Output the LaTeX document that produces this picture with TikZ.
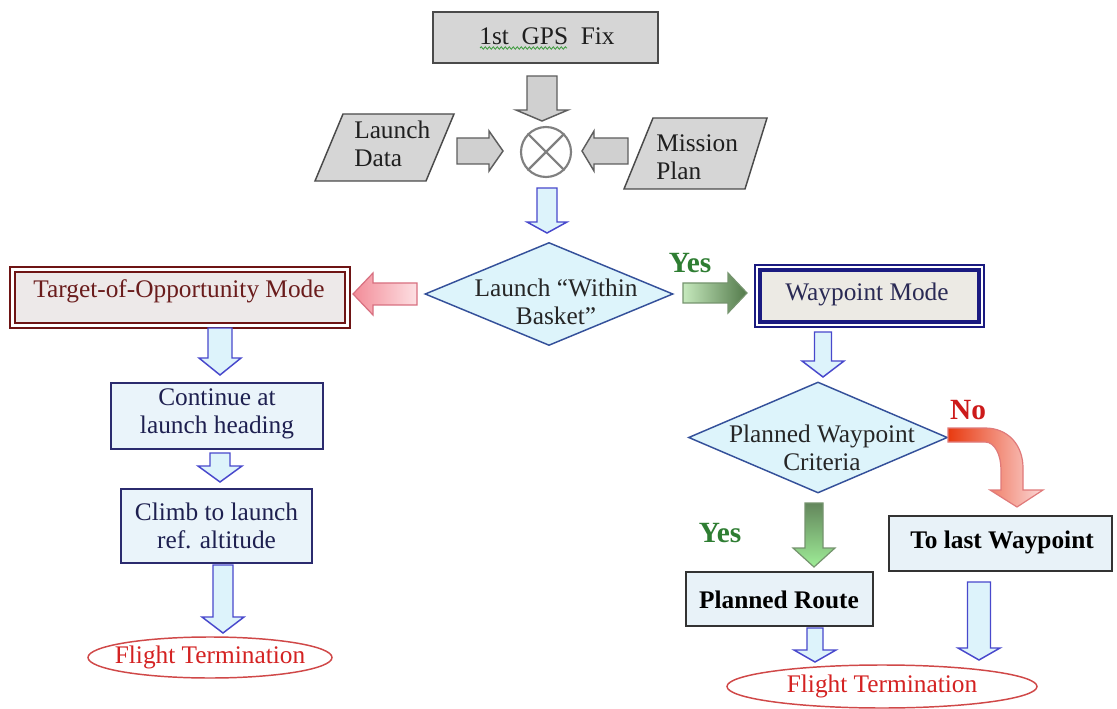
\documentclass[tikz,border=0pt]{standalone}
\usepackage{fontspec}
\setmainfont{Liberation Serif}
\usetikzlibrary{shapes.geometric,decorations.pathmorphing}
\definecolor{grayfill}{HTML}{D6D6D6}
\definecolor{grayline}{HTML}{4A4A4A}
\definecolor{arrgray}{HTML}{D0D0D0}
\definecolor{arrgrayline}{HTML}{5E5E5E}
\definecolor{bluefill}{HTML}{DDF3FB}
\definecolor{blueline}{HTML}{4848CC}
\definecolor{diafill}{HTML}{DDF4FB}
\definecolor{dialine}{HTML}{34509A}
\definecolor{boxfill}{HTML}{EAF4FA}
\definecolor{boxline}{HTML}{2B2B6E}
\definecolor{boxtext}{HTML}{1E2050}
\definecolor{tgtline}{HTML}{6E1414}
\definecolor{tgtfill}{HTML}{EDE9E9}
\definecolor{tgttext}{HTML}{6A1C1C}
\definecolor{wpline}{HTML}{1A1A80}
\definecolor{wpfill}{HTML}{ECEAE4}
\definecolor{wptext}{HTML}{2A2A55}
\definecolor{ftred}{HTML}{D42222}
\definecolor{ftline}{HTML}{D04848}
\definecolor{yesgreen}{HTML}{2E7D32}
\definecolor{nored}{HTML}{CC1A1A}
\definecolor{lgreen}{HTML}{C6E9BD}
\definecolor{dgreen}{HTML}{52794A}
\definecolor{pinkA}{HTML}{F28C98}
\definecolor{pinkB}{HTML}{FDE0E3}
\definecolor{pinkline}{HTML}{D87080}
\definecolor{redA}{HTML}{E83A10}
\definecolor{redB}{HTML}{FBD8D8}
\definecolor{redline}{HTML}{E07A7A}
\definecolor{routefill}{HTML}{E8F2F8}
\definecolor{squig}{HTML}{3A9A3A}
% vertical block arrow: [style]{x}{y0}{yb}{shaft half}{head half}{tip y}
\newcommand\vblk[7][]{\path[#1] ({#2-#5},#3) -- ({#2+#5},#3) -- ({#2+#5},#4) -- ({#2+#6},#4) -- (#2,#7) -- ({#2-#6},#4) -- ({#2-#5},#4) -- cycle;}
% horizontal block arrow: [style]{y}{x0}{xb}{shaft half}{head half}{tip x}
\newcommand\hblk[7][]{\path[#1] (#3,{#2-#5}) -- (#4,{#2-#5}) -- (#4,{#2-#6}) -- (#7,#2) -- (#4,{#2+#6}) -- (#4,{#2+#5}) -- (#3,{#2+#5}) -- cycle;}
\begin{document}
\begin{tikzpicture}[x=0.75pt,y=-0.75pt,
  every node/.style={inner sep=0pt, font=\fontsize{19}{21}\selectfont},
  graybk/.style={draw=arrgrayline, fill=arrgray, line width=1.1pt},
  bluebk/.style={draw=blueline, fill=bluefill, line width=1.1pt},
  pinkbk/.style={draw=pinkline, left color=pinkA, right color=pinkB, line width=0.9pt},
  greenr/.style={draw=dgreen!80, left color=lgreen, right color=dgreen, line width=0.9pt},
  greend/.style={draw=dgreen!80, top color=dgreen!90, bottom color=lgreen!80!green, line width=0.9pt},
  redbk/.style={draw=redline, left color=redA, right color=redB, line width=0.9pt},
  graybox/.style={draw=grayline, fill=grayfill, line width=1.1pt},
  flowbox/.style={draw=boxline, fill=boxfill, line width=1.1pt},
  dia/.style={diamond, draw=dialine, fill=diafill, line width=1.1pt},
  term/.style={ellipse, draw=ftline, fill=white, line width=1.1pt},
  txt/.style={align=center},
  lbl/.style={font=\fontsize{22}{24}\selectfont\bfseries}
]
\useasboundingbox[fill=white] (0,0) rectangle (1117,709);

% top: 1st GPS fix
\node[graybox, minimum width=168.75pt, minimum height=38.25pt] (gps) at (545.5,37.5) {};
\node[text=black!88] (gpst) at (547,36) {1st~ GPS~ Fix};
\draw[squig, line width=0.6pt, decorate, decoration={snake, amplitude=0.9pt, segment length=3pt}] (480,48) -- (567,48);

% parallelograms
\draw[graybox] (343,114) -- (454,114) -- (426,181) -- (315,181) -- cycle;
\node[txt, align=left, anchor=west, text=black!88] (ld) at (354,144) {Launch\\Data};
\draw[graybox] (653,118) -- (767,118) -- (745,189) -- (624,189) -- cycle;
\node[txt, align=left, anchor=west, text=black!88] (mp) at (656,157) {Mission\\Plan};

% summing junction
\node[circle, draw=black!50, line width=1.6pt, minimum size=37.5pt] (sum) at (546,152) {};
\draw[black!50, line width=1.6pt] (sum.north west) -- (sum.south east) (sum.north east) -- (sum.south west);

% gray arrows into the junction
\vblk[graybk]{542}{76}{110}{15}{26}{121}
\hblk[graybk]{151}{457}{489}{13}{20}{503}
\hblk[graybk]{151}{628}{594}{13}{20}{582}

% blue arrow to decision
\vblk[bluebk]{547}{188}{222}{10}{20}{233}

% decision 1
\node[dia, minimum width=186pt, minimum height=77.25pt] (d1) at (549,294) {};
\node[txt, text=black!85] (d1t) at (556,302) {Launch “Within\\Basket”};

% left branch
\hblk[pinkbk]{294}{417}{373}{11}{21}{353}
\node[draw=tgtline, line width=0.8pt, minimum width=255pt, minimum height=45.75pt] (tgo) at (180,297.5) {};
\node[draw=tgtline, fill=tgtfill, line width=2.2pt, minimum width=247.5pt, minimum height=38.25pt] (tgi) at (180,297.5) {};
\node[text=tgttext] (tgt) at (179,291) {Target-of-Opportunity Mode};

\vblk[bluebk]{220}{328}{358}{12}{21}{375}
\node[flowbox, minimum width=159pt, minimum height=49.5pt] (cont) at (217,416) {};
\node[txt, text=boxtext] (contt) at (217,414) {Continue at\\launch heading};

\vblk[bluebk]{220}{453}{466}{10}{22}{482}
\node[flowbox, minimum width=143.25pt, minimum height=55.5pt] (climb) at (216.5,526) {};
\node[txt, text=boxtext] (climbt) at (216.5,526) {Climb to launch\\ref. altitude};

\vblk[bluebk]{223}{565}{617}{10}{21}{633}
\node[term, minimum width=183pt, minimum height=30.75pt] (ft1) at (210,657.5) {};
\node[text=ftred] (ft1t) at (210,657) {Flight Termination};

% right branch
\node[lbl, text=yesgreen] (yes1) at (690,263) {Yes};
\hblk[greenr]{293}{683}{728}{10}{20}{747}
\node[draw=wpline, line width=0.8pt, minimum width=171.75pt, minimum height=46.5pt] (wpo) at (869.5,296) {};
\node[draw=wpline, fill=wpfill, line width=2.6pt, minimum width=164.25pt, minimum height=39pt] (wpi) at (869.5,296) {};
\node[text=wptext] (wpt) at (867,294) {Waypoint Mode};

\vblk[bluebk]{823}{332}{361}{8.5}{21}{377}
\node[dia, minimum width=194.25pt, minimum height=83.25pt] (d2) at (818,437.5) {};
\node[txt, text=black!85] (d2t) at (822,448) {Planned Waypoint\\Criteria};

\node[lbl, text=nored] (no) at (968,410) {No};
\path[redbk] (948,428) -- (985,428) .. controls (1008,428) and (1023,445) .. (1023,468) -- (1023,490) -- (1043,490) -- (1017,507) -- (990,490) -- (1001,490) -- (1001,470) .. controls (1001,455) and (995,442) .. (985,442) -- (948,442) -- cycle;

\node[lbl, text=yesgreen] (yes2) at (720,533) {Yes};
\vblk[greend]{814}{503}{548}{9}{21}{567}

\node[draw=black!80, fill=routefill, line width=1.1pt, minimum width=167.25pt, minimum height=41.25pt] (tlw) at (1000.5,543.5) {};
\node[font=\fontsize{19}{21}\selectfont\bfseries] (tlwt) at (1002,542) {To last Waypoint};

\node[draw=black!80, fill=routefill, line width=1.1pt, minimum width=140.25pt, minimum height=40.5pt] (pr) at (779.5,599) {};
\node[font=\fontsize{19}{21}\selectfont\bfseries] (prt) at (779,600) {Planned Route};

\vblk[bluebk]{815}{628}{650}{8}{21}{662}
\vblk[bluebk]{979}{582}{648}{11.5}{21}{660}

\node[term, minimum width=232.5pt, minimum height=32.25pt] (ft2) at (882,686.5) {};
\node[text=ftred] (ft2t) at (882,686) {Flight Termination};
\end{tikzpicture}
\end{document}
